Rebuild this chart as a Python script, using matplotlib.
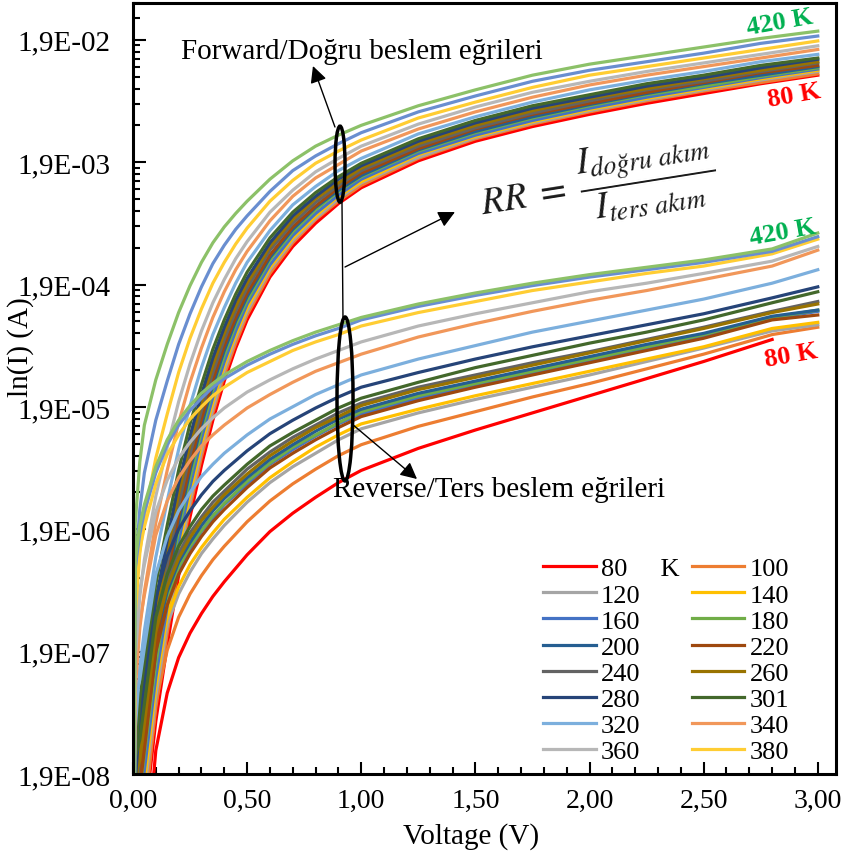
import numpy as np
import matplotlib
matplotlib.use('Agg')
import matplotlib.pyplot as plt
from matplotlib.patches import Ellipse
from matplotlib.ticker import FixedLocator, MultipleLocator, FuncFormatter

plt.rcParams['font.family'] = ['Liberation Serif', 'DejaVu Serif']
plt.rcParams['mathtext.fontset'] = 'stix'

# sıcaklıklar (K) ve Excel renkleri
temps = [80, 100, 120, 140, 160, 180, 200, 220, 240, 260, 280, 301, 320, 340, 360, 380, 400, 420]
colors = ['#FF0000', '#ED7D31', '#A5A5A5', '#FFC000', '#4472C4', '#70AD47', '#255E91', '#9E480E',
          '#636363', '#997300', '#264478', '#43682B', '#7CAFDD', '#F1975A', '#B7B7B7', '#FFCD33',
          '#698ED0', '#8CC168']

# doğru beslem: gerilim (V) ve log10(I / A)
v_fwd = [0.0, 0.01, 0.03, 0.05, 0.1, 0.15, 0.2, 0.25, 0.3, 0.35, 0.4, 0.45, 0.5, 0.6, 0.7, 0.8,
         0.9, 1.0, 1.25, 1.5, 1.75, 2.0, 2.25, 2.5, 2.75, 3.0]
log_i_fwd = {
    80:  [-9.0, -9.0, -9.0, -8.11, -7.29, -6.67, -6.10, -5.62, -5.20, -4.83, -4.51, -4.24, -4.01, -3.66, -3.41, -3.22, -3.06, -2.93, -2.71, -2.55, -2.43, -2.33, -2.24, -2.16, -2.08, -2.01],
    100: [-9.0, -8.78, -8.28, -7.98, -7.18, -6.57, -6.01, -5.54, -5.13, -4.77, -4.46, -4.20, -3.97, -3.63, -3.38, -3.19, -3.04, -2.91, -2.69, -2.53, -2.41, -2.31, -2.22, -2.14, -2.07, -2.00],
    120: [-9.0, -8.68, -8.18, -7.88, -7.09, -6.50, -5.95, -5.49, -5.08, -4.73, -4.42, -4.16, -3.94, -3.60, -3.36, -3.18, -3.02, -2.89, -2.68, -2.52, -2.40, -2.30, -2.21, -2.13, -2.05, -1.98],
    140: [-9.0, -8.59, -8.09, -7.79, -7.01, -6.42, -5.88, -5.43, -5.03, -4.68, -4.38, -4.13, -3.91, -3.58, -3.34, -3.16, -3.00, -2.88, -2.66, -2.51, -2.39, -2.29, -2.20, -2.12, -2.04, -1.97],
    160: [-9.0, -8.49, -7.99, -7.69, -6.93, -6.35, -5.82, -5.37, -4.98, -4.64, -4.35, -4.10, -3.88, -3.56, -3.32, -3.14, -2.99, -2.86, -2.65, -2.50, -2.38, -2.28, -2.19, -2.11, -2.03, -1.96],
    180: [-9.0, -8.36, -7.86, -7.56, -6.82, -6.25, -5.73, -5.30, -4.92, -4.58, -4.30, -4.05, -3.85, -3.52, -3.29, -3.11, -2.96, -2.84, -2.63, -2.48, -2.36, -2.26, -2.17, -2.10, -2.02, -1.95],
    200: [-9.0, -8.26, -7.76, -7.46, -6.73, -6.18, -5.67, -5.24, -4.87, -4.54, -4.26, -4.02, -3.82, -3.50, -3.27, -3.09, -2.95, -2.83, -2.62, -2.47, -2.35, -2.25, -2.16, -2.08, -2.01, -1.94],
    220: [-9.0, -8.16, -7.66, -7.36, -6.65, -6.10, -5.61, -5.19, -4.82, -4.50, -4.22, -3.99, -3.79, -3.48, -3.25, -3.08, -2.93, -2.81, -2.61, -2.45, -2.33, -2.24, -2.15, -2.07, -1.99, -1.93],
    240: [-9.0, -8.04, -7.54, -7.24, -6.54, -6.01, -5.52, -5.11, -4.75, -4.44, -4.17, -3.94, -3.75, -3.44, -3.22, -3.05, -2.91, -2.79, -2.59, -2.44, -2.32, -2.22, -2.13, -2.06, -1.98, -1.91],
    260: [-9.0, -7.91, -7.41, -7.11, -6.43, -5.91, -5.43, -5.03, -4.69, -4.38, -4.12, -3.90, -3.71, -3.41, -3.19, -3.02, -2.89, -2.77, -2.57, -2.42, -2.30, -2.20, -2.12, -2.04, -1.97, -1.90],
    280: [-9.0, -7.78, -7.28, -6.98, -6.31, -5.81, -5.35, -4.96, -4.62, -4.32, -4.07, -3.85, -3.67, -3.38, -3.16, -3.00, -2.86, -2.75, -2.55, -2.40, -2.28, -2.19, -2.10, -2.03, -1.95, -1.88],
    301: [-9.0, -7.61, -7.11, -6.81, -6.17, -5.69, -5.24, -4.86, -4.54, -4.25, -4.01, -3.80, -3.62, -3.34, -3.13, -2.97, -2.84, -2.73, -2.53, -2.38, -2.26, -2.17, -2.08, -2.01, -1.93, -1.87],
    320: [-9.0, -7.35, -6.85, -6.55, -5.95, -5.49, -5.07, -4.71, -4.40, -4.13, -3.91, -3.71, -3.54, -3.28, -3.07, -2.92, -2.79, -2.69, -2.49, -2.35, -2.23, -2.13, -2.05, -1.98, -1.90, -1.84],
    340: [-9.0, -7.03, -6.53, -6.23, -5.67, -5.24, -4.85, -4.52, -4.24, -3.99, -3.78, -3.60, -3.45, -3.20, -3.00, -2.85, -2.74, -2.63, -2.45, -2.31, -2.19, -2.09, -2.01, -1.94, -1.87, -1.80],
    360: [-9.0, -6.77, -6.27, -5.97, -5.45, -5.05, -4.68, -4.37, -4.10, -3.87, -3.68, -3.51, -3.37, -3.13, -2.95, -2.80, -2.69, -2.59, -2.41, -2.27, -2.15, -2.06, -1.98, -1.91, -1.84, -1.77],
    380: [-9.0, -6.42, -5.92, -5.62, -5.14, -4.78, -4.44, -4.16, -3.92, -3.71, -3.54, -3.39, -3.26, -3.04, -2.87, -2.73, -2.63, -2.54, -2.36, -2.23, -2.11, -2.01, -1.94, -1.87, -1.80, -1.73],
    400: [-9.0, -6.06, -5.56, -5.26, -4.83, -4.51, -4.21, -3.96, -3.74, -3.55, -3.40, -3.27, -3.16, -2.96, -2.79, -2.67, -2.57, -2.48, -2.31, -2.18, -2.06, -1.97, -1.90, -1.83, -1.75, -1.69],
    420: [-9.0, -5.67, -5.17, -4.87, -4.50, -4.21, -3.95, -3.73, -3.54, -3.38, -3.25, -3.14, -3.04, -2.86, -2.71, -2.59, -2.50, -2.42, -2.26, -2.13, -2.01, -1.92, -1.85, -1.78, -1.71, -1.65],
}

# ters beslem: |V| ve log10(|I| / A)
v_rev = [0.0, 0.01, 0.03, 0.05, 0.1, 0.15, 0.2, 0.25, 0.3, 0.35, 0.4, 0.5, 0.6, 0.7, 0.8, 0.9,
         1.0, 1.25, 1.5, 1.75, 2.0, 2.25, 2.5, 2.8, 3.0]
log_i_rev = {
    80:  [-9.0, -9.0, -9.0, -8.60, -7.53, -7.06, -6.77, -6.57, -6.41, -6.27, -6.15, -5.93, -5.74, -5.59, -5.46, -5.34, -5.24, -5.06, -4.91, -4.77, -4.63, -4.49, -4.35, -4.17, np.nan],
    100: [-9.0, -8.48, -8.44, -8.08, -7.14, -6.71, -6.44, -6.25, -6.10, -5.97, -5.86, -5.66, -5.49, -5.35, -5.23, -5.12, -5.03, -4.88, -4.76, -4.64, -4.53, -4.41, -4.29, -4.13, -4.07],
    120: [-9.0, -8.18, -8.11, -7.77, -6.90, -6.50, -6.25, -6.07, -5.92, -5.80, -5.69, -5.50, -5.34, -5.21, -5.10, -4.99, -4.90, -4.77, -4.66, -4.56, -4.46, -4.35, -4.24, -4.10, -4.05],
    140: [-9.0, -8.09, -8.01, -7.68, -6.83, -6.44, -6.19, -6.01, -5.87, -5.75, -5.64, -5.46, -5.30, -5.17, -5.05, -4.95, -4.86, -4.74, -4.63, -4.53, -4.43, -4.33, -4.23, -4.08, -4.03],
    160: [-9.0, -7.88, -7.78, -7.46, -6.67, -6.29, -6.05, -5.88, -5.74, -5.63, -5.52, -5.35, -5.19, -5.07, -4.96, -4.86, -4.78, -4.65, -4.54, -4.44, -4.34, -4.24, -4.14, -4.00, -3.94],
    180: [-9.0, -7.85, -7.74, -7.43, -6.65, -6.27, -6.03, -5.86, -5.73, -5.61, -5.51, -5.33, -5.18, -5.05, -4.95, -4.85, -4.76, -4.63, -4.53, -4.43, -4.33, -4.23, -4.13, -3.99, -3.93],
    200: [-9.0, -7.79, -7.68, -7.37, -6.60, -6.23, -5.99, -5.83, -5.69, -5.57, -5.47, -5.30, -5.15, -5.03, -4.92, -4.82, -4.74, -4.61, -4.51, -4.41, -4.31, -4.21, -4.12, -3.98, -3.93],
    220: [-9.0, -7.94, -7.84, -7.52, -6.72, -6.34, -6.09, -5.92, -5.78, -5.66, -5.56, -5.38, -5.22, -5.10, -4.99, -4.89, -4.80, -4.67, -4.56, -4.46, -4.36, -4.26, -4.16, -4.01, -3.97],
    240: [-9.0, -7.67, -7.54, -7.24, -6.51, -6.15, -5.92, -5.75, -5.62, -5.50, -5.41, -5.23, -5.09, -4.97, -4.87, -4.77, -4.69, -4.56, -4.46, -4.36, -4.27, -4.17, -4.07, -3.94, -3.86],
    260: [-9.0, -7.73, -7.61, -7.31, -6.56, -6.19, -5.96, -5.79, -5.65, -5.54, -5.44, -5.27, -5.12, -5.00, -4.89, -4.80, -4.71, -4.58, -4.48, -4.38, -4.28, -4.18, -4.08, -3.95, -3.88],
    280: [-9.0, -7.36, -7.21, -6.94, -6.28, -5.94, -5.72, -5.57, -5.44, -5.33, -5.24, -5.08, -4.94, -4.83, -4.73, -4.64, -4.56, -4.44, -4.33, -4.23, -4.14, -4.05, -3.96, -3.83, -3.74],
    301: [-9.0, -7.58, -7.44, -7.15, -6.44, -6.09, -5.86, -5.70, -5.56, -5.45, -5.36, -5.19, -5.04, -4.93, -4.83, -4.73, -4.65, -4.52, -4.40, -4.30, -4.20, -4.11, -4.01, -3.87, -3.78],
    320: [-9.0, -7.12, -6.95, -6.69, -6.09, -5.78, -5.57, -5.42, -5.29, -5.19, -5.10, -4.95, -4.82, -4.72, -4.62, -4.54, -4.46, -4.33, -4.22, -4.11, -4.02, -3.93, -3.84, -3.71, -3.60],
    340: [-9.0, -6.70, -6.48, -6.26, -5.77, -5.49, -5.30, -5.16, -5.04, -4.95, -4.87, -4.73, -4.62, -4.52, -4.43, -4.36, -4.29, -4.15, -4.04, -3.94, -3.85, -3.77, -3.68, -3.57, -3.44],
    360: [-9.0, -6.45, -6.22, -6.01, -5.58, -5.32, -5.14, -5.01, -4.90, -4.81, -4.73, -4.60, -4.50, -4.41, -4.33, -4.26, -4.19, -4.06, -3.96, -3.87, -3.78, -3.71, -3.63, -3.53, -3.41],
    380: [-9.0, -6.15, -5.89, -5.70, -5.35, -5.11, -4.95, -4.82, -4.72, -4.63, -4.56, -4.44, -4.35, -4.26, -4.19, -4.13, -4.06, -3.95, -3.86, -3.77, -3.70, -3.63, -3.57, -3.47, -3.35],
    400: [-9.0, -6.03, -5.76, -5.58, -5.26, -5.03, -4.87, -4.75, -4.65, -4.56, -4.49, -4.38, -4.29, -4.21, -4.14, -4.08, -4.01, -3.90, -3.81, -3.73, -3.66, -3.60, -3.54, -3.45, -3.33],
    420: [-9.0, -5.97, -5.69, -5.52, -5.21, -4.99, -4.83, -4.71, -4.61, -4.53, -4.46, -4.35, -4.26, -4.18, -4.11, -4.05, -3.99, -3.88, -3.79, -3.71, -3.64, -3.58, -3.52, -3.43, -3.30],
}

# eksen etiketleri
y_ticks = [1.9e-8, 1.9e-7, 1.9e-6, 1.9e-5, 1.9e-4, 1.9e-3, 1.9e-2]
y_tick_labels = ['1,9E-08', '1,9E-07', '1,9E-06', '1,9E-05', '1,9E-04', '1,9E-03', '1,9E-02']
legend_temps = temps[:16]

fig = plt.figure(figsize=(8.41, 8.54), dpi=100)
ax = fig.add_axes([0.1581, 0.0925, 0.836, 0.9028])

handles = {}
for t, c in zip(temps, colors):
    h, = ax.plot(v_fwd, 10 ** np.array(log_i_fwd[t]), color=c, lw=2.3, solid_joinstyle='round')
    ax.plot(v_rev, 10 ** np.array(log_i_rev[t]), color=c, lw=2.3, solid_joinstyle='round')
    handles[t] = h

ax.set_yscale('log')
ax.set_xlim(0, 3.08)
ax.set_ylim(1.9e-8, 3.8e-2)

ax.yaxis.set_major_locator(FixedLocator(y_ticks))
ax.set_yticklabels(y_tick_labels)
minor_y = [y * k for y in y_ticks[:-1] for k in range(2, 10)] + [1.9e-2 * k for k in (1.5, 2.0)]
ax.yaxis.set_minor_locator(FixedLocator(minor_y))
ax.yaxis.set_minor_formatter(FuncFormatter(lambda v, p: ''))

ax.xaxis.set_major_locator(MultipleLocator(0.5))
ax.xaxis.set_minor_locator(MultipleLocator(0.1))
ax.xaxis.set_major_formatter(FuncFormatter(lambda v, p: f'{v:.2f}'.replace('.', ',')))

ax.tick_params(which='both', direction='in', colors='black', width=1.5)
ax.tick_params(which='major', length=9)
ax.tick_params(which='minor', length=5)
ax.tick_params(axis='y', pad=16, labelsize=21)
ax.tick_params(axis='x', pad=10, labelsize=20)
for s in ax.spines.values():
    s.set_linewidth(2.2)
    s.set_color('black')

ax.set_xlabel('Voltage (V)', fontsize=21)
ax.set_ylabel('ln(I) (A)', fontsize=21)
ax.xaxis.set_label_coords(0.481, -0.062)
ax.yaxis.set_label_coords(-0.141, 0.555)

# lejant: Excel gibi satır satır
order = legend_temps[0::2] + legend_temps[1::2]
labels = [('80     K' if t == 80 else str(t)) for t in order]
ax.legend([handles[t] for t in order], labels, ncol=2, frameon=False, fontsize=19,
          loc='upper left', bbox_to_anchor=(0.6457, 0.3466), bbox_transform=fig.transFigure,
          borderpad=0, borderaxespad=0, handlelength=2.0, handletextpad=0.2,
          columnspacing=0.45, labelspacing=0.1)

# açıklamalar
T = ax.transAxes
ax.add_patch(Ellipse((0.2945, 0.791), 0.0142, 0.0986, transform=T, fill=False, lw=2.5, color='black', zorder=5))
ax.add_patch(Ellipse((0.3016, 0.4864), 0.0228, 0.2127, transform=T, fill=False, lw=2.5, color='black', zorder=5))
ax.plot([0.2973, 0.2987], [0.7419, 0.5927], transform=T, color='black', lw=1, zorder=5)

arrow = dict(arrowstyle='-|>', color='black', lw=1, mutation_scale=25, shrinkA=0, shrinkB=0)
ax.annotate('', xy=(0.2560, 0.9183), xytext=(0.2873, 0.8392), xycoords=T, textcoords=T, arrowprops=arrow)
ax.annotate('', xy=(0.4580, 0.7289), xytext=(0.3016, 0.6576), xycoords=T, textcoords=T, arrowprops=arrow)
ax.annotate('', xy=(0.4040, 0.3826), xytext=(0.3115, 0.4540), xycoords=T, textcoords=T, arrowprops=arrow)

ax.text(0.3257, 0.9377, 'Forward/Doğru beslem eğrileri', transform=T, fontsize=21, ha='center', va='center')
ax.text(0.5206, 0.3696, 'Reverse/Ters beslem eğrileri', transform=T, fontsize=21, ha='center', va='center')
ax.text(0.6615, 0.7652, r'$RR\ =\ \dfrac{I_{doğru\ akım}}{I_{ters\ akım}}$', transform=T, fontsize=27,
        ha='center', va='center', rotation=9, rotation_mode='anchor', color='#1a1a1a')

for (x, y, s, c) in [(0.9203, 0.9754, '420 K', '#00B050'), (0.9403, 0.8807, '80 K', '#FF0000'),
                     (0.9246, 0.7030, '420 K', '#00B050'), (0.9360, 0.5435, '80 K', '#FF0000')]:
    ax.text(x, y, s, transform=T, fontsize=19, fontweight='bold', color=c,
            ha='center', va='center', rotation=10, rotation_mode='anchor')

fig.savefig('out.png', dpi=100)
